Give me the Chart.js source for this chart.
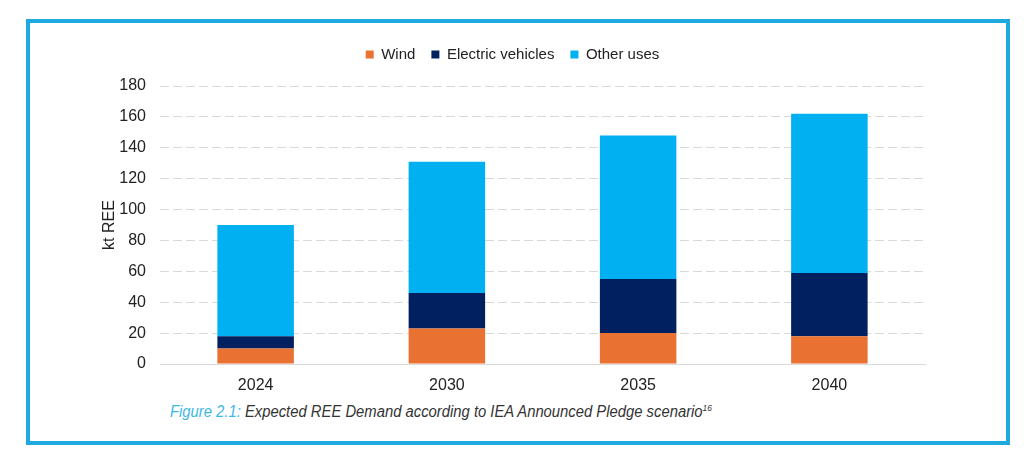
<!DOCTYPE html>
<html>
<head>
<meta charset="utf-8">
<script src="https://cdn.jsdelivr.net/npm/chart.js@4"></script>
<style>
  html, body { margin: 0; padding: 0; background: #fff; }
  #page { position: relative; width: 1024px; height: 459px; overflow: hidden; font-family: "Liberation Sans", Arial, sans-serif; }
  #frame { position: absolute; left: 26px; top: 19px; width: 984px; height: 426px; box-sizing: border-box; border: 4px solid #1eaade; }
  #chartBox { position: absolute; left: 30px; top: 23px; width: 976px; height: 372px; }
  #caption { position: absolute; left: 170px; top: 403px; font-size: 16px; font-style: italic; color: #333; white-space: nowrap; transform: scaleX(0.926); transform-origin: left top; }
  #caption .fig { color: #3db7e4; }
  #caption sup { font-size: 9px; }
</style>
</head>
<body>
<div id="page">
  <div id="frame"></div>
  <div id="chartBox"><canvas id="reeChart"></canvas></div>
  <div id="caption"><span class="fig">Figure 2.1:</span> Expected REE Demand according to IEA Announced Pledge scenario<sup>16</sup></div>
</div>
<script>
const years = ['2024', '2030', '2035', '2040'];
const wind = [10, 23, 20, 18];
const electricVehicles = [8, 23, 35, 41];
const otherUses = [72, 85, 93, 103];
const yTicks = [0, 20, 40, 60, 80, 100, 120, 140, 160, 180];

const tickFont = { family: '"Liberation Sans", Arial, sans-serif', size: 16 };
const legendFont = { family: '"Liberation Sans", Arial, sans-serif', size: 15 };

// extra room under the legend so the plot starts lower
const legendGap = {
  id: 'legendGap',
  beforeInit(chart) {
    const fit = chart.legend.fit;
    chart.legend.fit = function () {
      fit.bind(chart.legend)();
      this.height += 14;
    };
  }
};

const ctx = document.getElementById('reeChart').getContext('2d');
new Chart(ctx, {
  type: 'bar',
  data: {
    labels: years,
    datasets: [
      { label: 'Wind', data: wind, backgroundColor: '#e97132' },
      { label: 'Electric vehicles', data: electricVehicles, backgroundColor: '#002060' },
      { label: 'Other uses', data: otherUses, backgroundColor: '#00b0f0' }
    ]
  },
  options: {
    responsive: true,
    maintainAspectRatio: false,
    animation: false,
    datasets: { bar: { categoryPercentage: 0.4, barPercentage: 1 } },
    layout: { padding: { left: 70, right: 81, top: 8, bottom: 0 } },
    scales: {
      x: {
        stacked: true,
        grid: { display: false },
        border: { display: true, color: '#d9d9d9', width: 1 },
        ticks: { color: '#222', font: tickFont, padding: 4 },
        afterFit: function (scale) { scale.height = 31; }
      },
      y: {
        stacked: true,
        min: 0,
        max: 180,
        afterBuildTicks: function (scale) { scale.ticks = yTicks.map(v => ({ value: v })); },
        grid: {
          color: c => (c.tick && c.tick.value === 0 ? 'rgba(0,0,0,0)' : '#d9d9d9'),
          drawTicks: false
        },
        border: { display: false, dash: [9, 4] },
        ticks: { color: '#222', font: tickFont, padding: 14 },
        title: { display: true, text: 'kt REE', color: '#222', font: tickFont, padding: 0 },
        afterFit: function (scale) { scale.width = 60; }
      }
    },
    plugins: {
      legend: {
        position: 'top',
        labels: {
          color: '#222',
          font: legendFont,
          boxWidth: 8,
          boxHeight: 8,
          padding: 16
        }
      },
      tooltip: { enabled: false }
    }
  },
  plugins: [legendGap]
});
</script>
</body>
</html>
